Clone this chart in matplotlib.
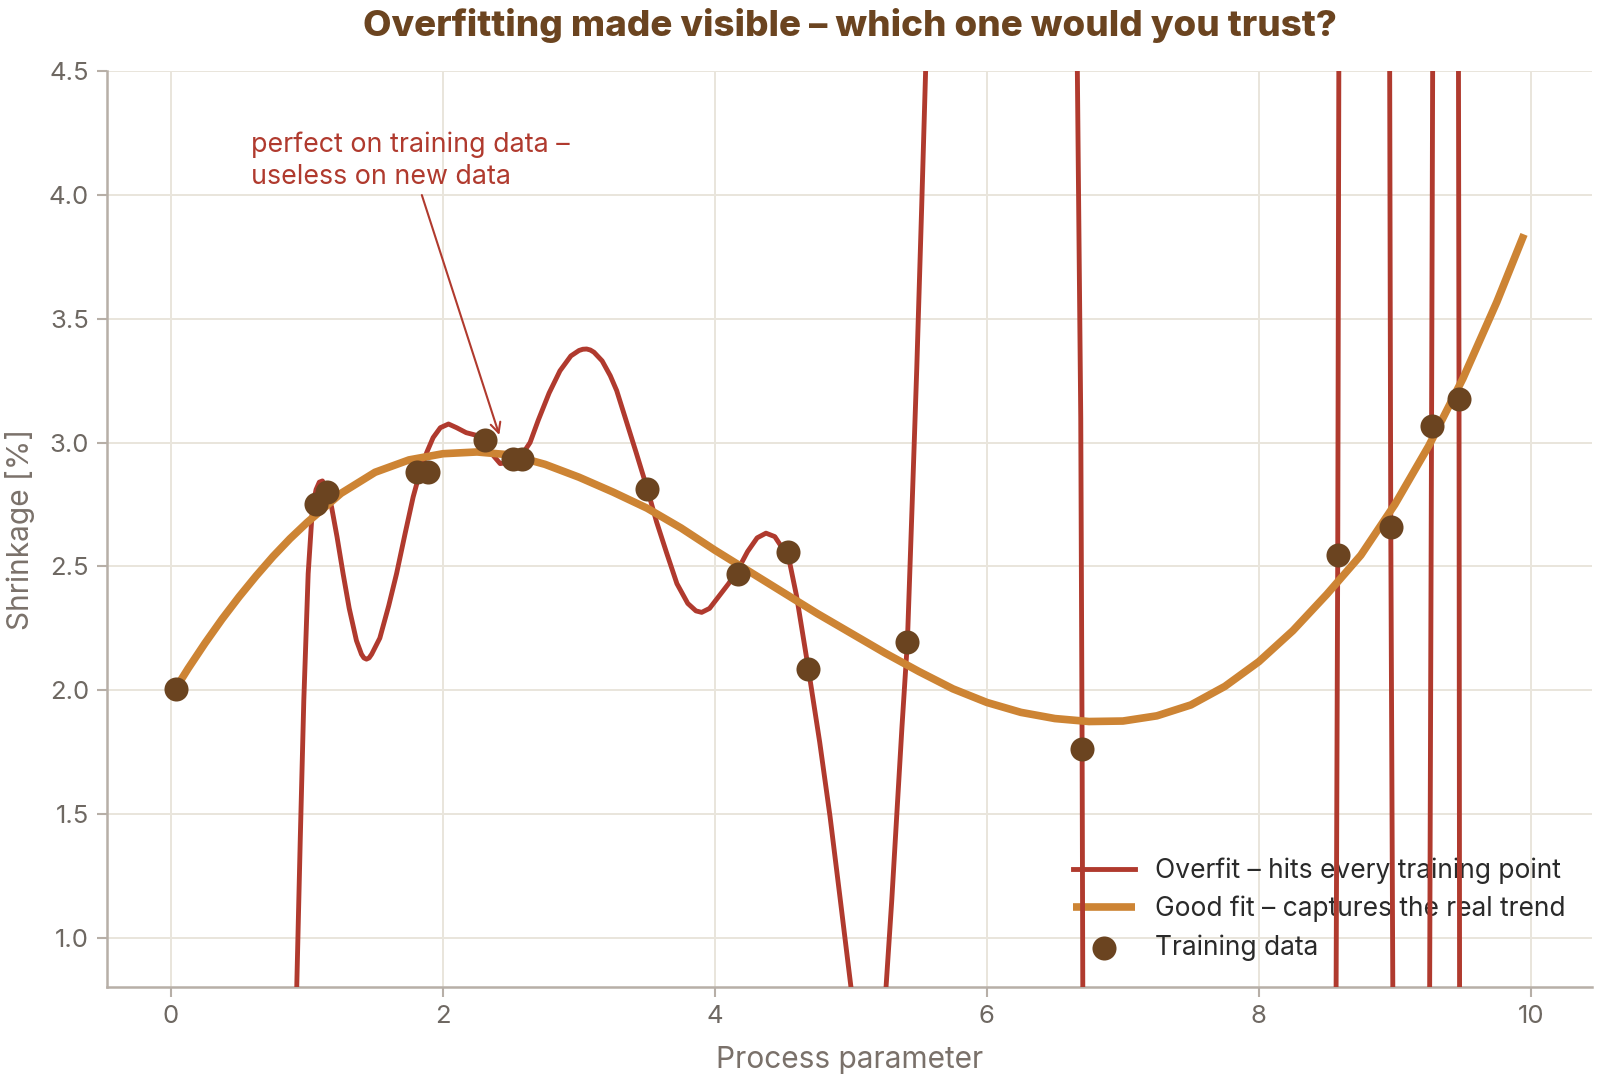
import numpy as np
import matplotlib
matplotlib.use("Agg")
import matplotlib.pyplot as plt

plt.rcParams['font.family'] = ['Inter', 'DejaVu Sans']

# training points
train_x = [0.035, 1.064, 1.143, 1.805, 1.890, 2.305, 2.516, 2.578, 3.502,
           4.172, 4.540, 4.687, 5.415, 6.700, 8.580, 8.970, 9.270, 9.473]
train_y = [2.005, 2.753, 2.800, 2.883, 2.883, 3.012, 2.935, 2.935, 2.813,
           2.470, 2.556, 2.085, 2.194, 1.763, 2.546, 2.660, 3.067, 3.175]

# smooth "good fit" curve
good_x = [0.035, 0.125, 0.25, 0.375, 0.5, 0.625, 0.75, 0.875, 1.0, 1.25, 1.5,
          1.75, 2.0, 2.25, 2.5, 2.75, 3.0, 3.25, 3.5, 3.75, 4.0, 4.25, 4.5,
          4.75, 5.0, 5.25, 5.5, 5.75, 6.0, 6.25, 6.5, 6.75, 7.0, 7.25, 7.5,
          7.75, 8.0, 8.25, 8.5, 8.75, 9.0, 9.25, 9.5, 9.75, 9.95]
good_y = [2.008, 2.087, 2.19, 2.287, 2.377, 2.461, 2.54, 2.612, 2.677, 2.795,
          2.88, 2.93, 2.955, 2.962, 2.95, 2.912, 2.86, 2.80, 2.735, 2.655,
          2.565, 2.48, 2.395, 2.31, 2.23, 2.15, 2.075, 2.005, 1.95, 1.91,
          1.885, 1.873, 1.875, 1.896, 1.94, 2.015, 2.115, 2.24, 2.387, 2.545,
          2.75, 2.987, 3.258, 3.568, 3.841]

# wild overfit curve (values far outside the view are clipped)
over_x = [0.905, 0.924, 0.950, 0.976, 1.008, 1.040, 1.066, 1.090, 1.113,
          1.140, 1.180, 1.220, 1.265, 1.310, 1.363, 1.400, 1.418, 1.437,
          1.456, 1.475, 1.535, 1.600, 1.658, 1.720, 1.780, 1.830, 1.880,
          1.927, 1.980, 2.040, 2.100, 2.170, 2.240, 2.307, 2.350, 2.420,
          2.480, 2.530, 2.580, 2.640, 2.700, 2.780, 2.860, 2.940, 3.000,
          3.028, 3.056, 3.083, 3.110, 3.170, 3.230, 3.277, 3.340, 3.420,
          3.502, 3.570, 3.645, 3.720, 3.800, 3.860, 3.902, 3.960, 4.030,
          4.100, 4.172, 4.240, 4.310, 4.375, 4.440, 4.500, 4.540, 4.600,
          4.687, 4.770, 4.846, 4.920, 5.000, 5.050, 5.150, 5.220, 5.258,
          5.300, 5.337, 5.375, 5.415, 5.450, 5.484, 5.520, 5.549, 5.570,
          6.100, 6.640, 6.665, 6.690, 6.700, 6.705, 6.720, 7.600, 8.555,
          8.568, 8.580, 8.588, 8.600, 8.770, 8.950, 8.962, 8.970, 8.985,
          8.995, 9.130, 9.250, 9.256, 9.270, 9.278, 9.285, 9.370, 9.462,
          9.468, 9.472, 9.476, 9.480, 9.700, 9.950]
over_y = [0.0, 0.80, 1.40, 1.96, 2.47, 2.74, 2.81, 2.84, 2.845,
          2.81, 2.74, 2.62, 2.47, 2.33, 2.20, 2.145, 2.130, 2.125,
          2.130, 2.145, 2.21, 2.34, 2.47, 2.63, 2.78, 2.88, 2.96,
          3.02, 3.06, 3.075, 3.06, 3.04, 3.03, 3.005, 2.96, 2.915,
          2.92, 2.935, 2.95, 3.00, 3.09, 3.20, 3.29, 3.35, 3.372,
          3.377, 3.378, 3.374, 3.365, 3.33, 3.27, 3.21, 3.10, 2.96,
          2.813, 2.68, 2.553, 2.43, 2.35, 2.32, 2.314, 2.33, 2.38,
          2.43, 2.49, 2.56, 2.615, 2.634, 2.62, 2.57, 2.54, 2.38,
          2.085, 1.79, 1.49, 1.16, 0.80, 0.5, 0.2, 0.5, 0.80,
          1.15, 1.496, 1.85, 2.194, 2.75, 3.30, 3.95, 4.50, 5.0,
          40.0, 5.0, 4.50, 3.10, 1.763, 0.80, 0.0, -40.0, 0.0,
          0.80, 2.546, 4.50, 5.2, 40.0, 5.2, 4.50, 2.661, 0.80,
          0.0, -30.0, 0.0, 0.80, 3.069, 4.50, 5.2, 30.0, 5.2,
          4.50, 3.176, 0.80, 0.0, -50.0, -100.0]

x_ticks = [0, 2, 4, 6, 8, 10]
y_ticks = [1.0, 1.5, 2.0, 2.5, 3.0, 3.5, 4.0, 4.5]

red = '#B03A2E'
orange = '#CD8434'
brown = '#6B4420'
grid_c = '#E9E5DC'
spine_c = '#B7AFA7'
tick_c = '#6E6862'

fig = plt.figure(figsize=(16, 10.8), dpi=100)
ax = fig.add_axes([0.067, 0.086, 0.928, 0.848])

ax.plot(over_x, over_y, color=red, lw=3.5, label='Overfit – hits every training point', zorder=3)
ax.plot(good_x, good_y, color=orange, lw=5.5, label='Good fit – captures the real trend', zorder=4,
        solid_capstyle='butt')
ax.scatter(train_x, train_y, s=300, color=brown, zorder=5, label='Training data', linewidths=0)

ax.set_xlim(-0.47, 10.45)
ax.set_ylim(0.8, 4.5)
ax.set_xticks(x_ticks)
ax.set_yticks(y_ticks)
ax.set_yticklabels(['{:.1f}'.format(v) for v in y_ticks])
ax.grid(True, color=grid_c, lw=1.4)
ax.set_axisbelow(True)

for s in ['top', 'right']:
    ax.spines[s].set_visible(False)
for s in ['left', 'bottom']:
    ax.spines[s].set_color(spine_c)
    ax.spines[s].set_linewidth(1.8)
ax.tick_params(colors=spine_c, width=1.5, length=7, labelsize=18.5, labelcolor=tick_c, pad=6)

ax.set_xlabel('Process parameter', fontsize=21.5, color='#7A716A', labelpad=13)
ax.set_ylabel('Shrinkage [%]', fontsize=21.5, color='#7A716A', labelpad=10)

fig.suptitle('Overfitting made visible – which one would you trust?', x=0.531, y=0.993,
             fontsize=26.5, fontweight='heavy', color=brown, va='top')

ax.annotate('perfect on training data –\nuseless on new data', xy=(2.42, 3.02), xytext=(0.59, 4.14),
            ha='left', va='center', fontsize=19.3, color=red, linespacing=1.3,
            arrowprops=dict(arrowstyle='->', color=red, lw=1.5, mutation_scale=18))

leg = ax.legend(loc='lower right', frameon=False, fontsize=19, handlelength=2.35,
                labelspacing=0.45, borderaxespad=0.6, handletextpad=0.75)
leg.set_zorder(2)
for t in leg.get_texts():
    t.set_color('#2A2A2A')

fig.savefig('out.png', dpi=100, facecolor='white')
